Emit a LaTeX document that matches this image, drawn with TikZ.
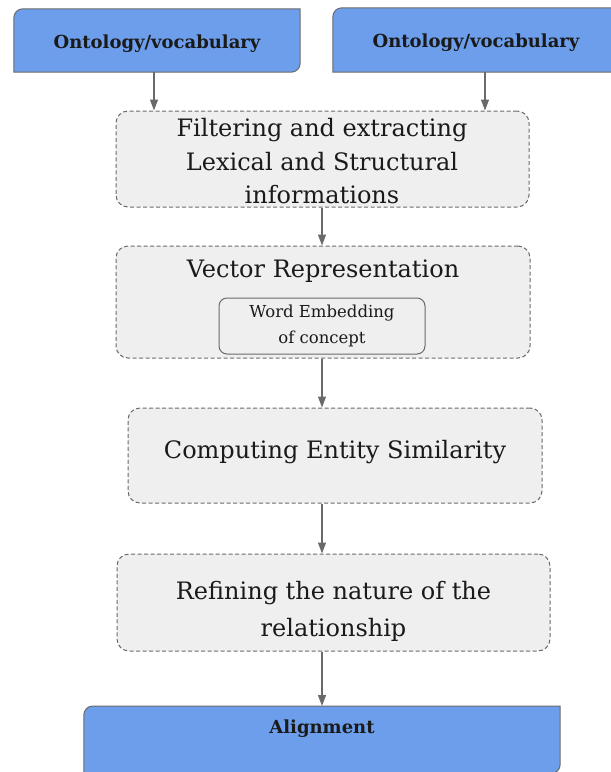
\documentclass[tikz,border=0pt]{standalone}
\usepackage{fontspec}
\setmainfont{DejaVu Serif}
\usetikzlibrary{arrows.meta,backgrounds}
\definecolor{boxblue}{HTML}{6D9EEB}
\definecolor{boxgray}{HTML}{EFEFEF}
\definecolor{edgegray}{HTML}{6A6A6A}
\definecolor{txtblack}{HTML}{1A1A1A}
\tikzset{
  blockbox/.style={text=txtblack, font=\bfseries\fontsize{18}{21}\selectfont, align=center, inner sep=0pt},
  stepbox/.style={draw=edgegray, dash pattern=on 4pt off 2.5pt, fill=boxgray, rounded corners=12pt, line width=1pt, text=txtblack, align=center, font=\fontsize{24}{34}\selectfont, inner sep=0pt},
  steptext/.style={text=txtblack, align=center, font=\fontsize{24}{37}\selectfont, inner sep=0pt},
  subbox/.style={draw=edgegray, fill=boxgray, rounded corners=8pt, line width=1pt, text=txtblack, align=center, font=\fontsize{16.5}{26}\selectfont, inner sep=0pt},
  arr/.style={draw=edgegray, line width=1.2pt, -{Triangle[length=11pt,width=8pt]}},
  blueshape/.style={fill=boxblue, draw=edgegray, line width=1pt}
}
% blue box: rounded top left and bottom right corners only
\newcommand\snipbox[1]{%
  \draw[blueshape] (#1.south west) -- ([yshift=-9pt]#1.north west)
    arc[start angle=180, end angle=90, radius=9pt] -- (#1.north east)
    -- ([yshift=9pt]#1.south east) arc[start angle=0, end angle=-90, radius=9pt] -- cycle;}

\begin{document}
\begin{tikzpicture}[x=1pt,y=-1pt]
  %%%%% START %%%%%
  \useasboundingbox (0,0) rectangle (611,772);

  \node[blockbox, minimum width=286pt, minimum height=63pt, text height=19.5pt] (ontL) at (157,40.5) {Ontology/vocabulary};
  \node[blockbox, minimum width=286pt, minimum height=64pt, text height=19.5pt] (ontR) at (476,40) {Ontology/vocabulary};

  \node[stepbox, minimum width=413pt, minimum height=96pt] (filt) at (322.5,159) {};
  \node[steptext, font=\fontsize{24}{33.5}\selectfont] (filttext) at (322,161.5)
    {Filtering and extracting\\Lexical and Structural\\informations};

  \node[stepbox, minimum width=414pt, minimum height=112pt] (vec) at (323,302) {};
  \node[steptext] (vectitle) at (323,271) {Vector Representation};
  \node[subbox, minimum width=206pt, minimum height=56pt] (wordemb) at (322,326) {Word Embedding\\of concept};

  \node[stepbox, minimum width=414pt, minimum height=95pt] (comp) at (335,455.5) {};
  \node[steptext] (comptext) at (335,452) {Computing Entity Similarity};

  \node[stepbox, minimum width=433pt, minimum height=97pt] (ref) at (333.5,602.5) {};
  \node[steptext] (reftext) at (333.5,611) {Refining the nature of the\\relationship};

  \node[blockbox, anchor=north, minimum width=476pt, text height=15pt, text depth=28pt, inner ysep=12pt] (align) at (322,706) {Alignment};

  \begin{scope}[on background layer]
    \snipbox{ontL}
    \snipbox{ontR}
    \snipbox{align}
  \end{scope}

  \draw[arr] ([xshift=-3pt]ontL.south) -- ([xshift=-3pt]ontL.south |- filt.north);
  \draw[arr] ([xshift=9pt]ontR.south) -- ([xshift=9pt]ontR.south |- filt.north);
  \draw[arr] (filt.south -| align.north) -- (vec.north -| align.north);
  \draw[arr] (vec.south -| align.north) -- (comp.north -| align.north);
  \draw[arr] (comp.south -| align.north) -- (ref.north -| align.north);
  \draw[arr] (ref.south -| align.north) -- (align.north);
  %%%%% END %%%%%
\end{tikzpicture}
\end{document}
